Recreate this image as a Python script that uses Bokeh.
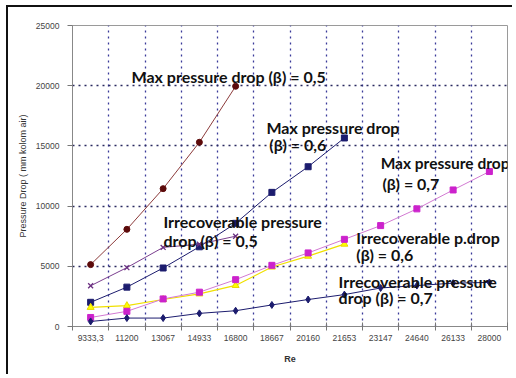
from bokeh.plotting import figure
from bokeh.models import FixedTicker, Label, Range1d
from bokeh.embed import file_html
from bokeh.resources import INLINE

categories = ["9333,3", "11200", "13067", "14933", "16800", "18667",
              "20160", "21653", "23147", "24640", "26133", "28000"]
y_ticks = [0, 5000, 10000, 15000, 20000, 25000]

max_05 = [5140, 8070, 11450, 15300, 19950]
max_06 = [2010, 3270, 4860, 6620, 8570, 11140, 13270, 15660]
max_07 = [750, 1260, 2290, 2850, 3890, 5080, 6110, 7240, 8380, 9770, 11340, 12870]
irr_05 = [3380, 4890, 6570, 6840, 7500]
irr_06 = [1590, 1730, 2240, 2710, 3410, 4940, 5840, 6840]
irr_07 = [420, 700, 700, 1090, 1310, 1790, 2240, 2650, 3200, 3400, 3600, 3660]

n = len(categories)
centers = [i + 0.5 for i in range(n)]

p = figure(width=506, height=369, output_backend="svg", toolbar_location=None,
           x_range=Range1d(0, n), y_range=Range1d(0, 25000),
           min_border_left=64, min_border_right=7, min_border_top=18, min_border_bottom=50)
p.styles = {"margin-left": "6px", "margin-top": "5px",
            "border-left": "2px solid #111111", "border-top": "2px solid #111111"}
p.background_fill_color = "white"
p.border_fill_color = "white"
p.outline_line_color = "#9a9a9a"

# axes
p.xaxis.ticker = FixedTicker(ticks=centers, minor_ticks=list(range(n + 1)))
p.xaxis.major_label_overrides = {c: lab for c, lab in zip(centers, categories)}
p.xaxis.major_tick_line_color = None
p.xaxis.minor_tick_in = 4
p.xaxis.minor_tick_out = 4
p.xaxis.minor_tick_line_color = "#777777"
p.xaxis.axis_line_color = "#888888"
p.xaxis.major_label_standoff = 2
p.xaxis.axis_label = "Re"
p.xaxis.axis_label_text_font_style = "bold"
p.xaxis.axis_label_text_font_size = "9px"
p.xaxis.axis_label_text_font = "Liberation Sans"
p.xaxis.axis_label_text_color = "#333333"
p.xaxis.axis_label_standoff = 10

p.yaxis.ticker = FixedTicker(ticks=y_ticks, minor_ticks=[])
p.yaxis.major_tick_out = 5
p.yaxis.major_tick_in = 0
p.yaxis.major_tick_line_color = "#777777"
p.yaxis.axis_line_color = "#888888"
p.yaxis.major_label_standoff = 8
p.yaxis.axis_label = "Pressure Drop ( mm kolom air)"
p.yaxis.axis_label_text_font_style = "normal"
p.yaxis.axis_label_text_font_size = "9px"
p.yaxis.axis_label_text_font = "Liberation Sans"
p.yaxis.axis_label_text_color = "#333333"
p.yaxis.axis_label_standoff = 5

for ax in (p.xaxis, p.yaxis):
    ax.major_label_text_font = "Liberation Sans"
    ax.major_label_text_font_size = "8.5px"
    ax.major_label_text_color = "#444444"

# grids
p.xgrid.ticker = FixedTicker(ticks=list(range(1, n)))
p.xgrid.grid_line_color = "#3a3a9a"
p.xgrid.grid_line_dash = "dotted"
p.xgrid.grid_line_width = 1.3
p.ygrid.ticker = FixedTicker(ticks=[5000, 10000, 15000, 20000])
p.ygrid.grid_line_color = "#2a2a60"
p.ygrid.grid_line_dash = "dotted"
p.ygrid.grid_line_width = 1.3

# series
def xs(vals):
    return centers[:len(vals)]

p.line(xs(max_05), max_05, line_color="#8c3b3b", line_width=1)
p.scatter(xs(max_05), max_05, marker="circle", size=6, fill_color="#5c0a0a", line_color="#5c0a0a")

p.line(xs(max_06), max_06, line_color="#1c1c6e", line_width=1)
p.scatter(xs(max_06), max_06, marker="square", size=6, fill_color="#1c1c6e", line_color="#1c1c6e")

p.line(xs(irr_05), irr_05, line_color="#7b3f8f", line_width=1)
p.scatter(xs(irr_05), irr_05, marker="x", size=7, line_color="#6a2f80", line_width=1.3)

p.line(xs(irr_06), irr_06, line_color="#f0e000", line_width=1.2)
p.scatter(xs(irr_06), irr_06, marker="triangle", size=7, fill_color="#ffff00", line_color="#e8d800")

p.line(xs(max_07), max_07, line_color="#d27ad2", line_width=1)
p.scatter(xs(max_07), max_07, marker="square", size=6, fill_color="#cc22cc", line_color="#cc22cc")

p.line(xs(irr_07), irr_07, line_color="#1c1c6e", line_width=1)
p.scatter(xs(irr_07), irr_07, marker="diamond", size=7, fill_color="#1c1c6e", line_color="#1c1c6e")

# annotations: (text, x position, y baseline, font size)
labels = [
    ("Max pressure drop (\u03b2) = 0,5", 1.63, 20788, "16px"),
    ("Max pressure drop", 5.35, 16566, "16px"),
    ("(\u03b2) = 0,6", 5.43, 15134, "16px"),
    ("Max pressure drop", 8.50, 13543, "15.5px"),
    ("(\u03b2) = 0,7", 8.55, 11868, "16px"),
    ("Irrecoverable pressure", 2.51, 8685, "16px"),
    ("drop (\u03b2) = 0,5", 2.51, 7178, "16px"),
    ("Irrecoverable  p.drop", 7.83, 7429, "16px"),
    ("(\u03b2) = 0,6", 7.83, 6005, "16px"),
    ("Irrecoverable pressure", 7.34, 3744, "16px"),
    ("drop (\u03b2) = 0,7", 7.34, 2404, "16px"),
]
for txt, lx, ly, fs in labels:
    p.add_layout(Label(x=lx, y=ly, text=txt, text_font="Lato",
                       text_font_style="bold", text_font_size=fs,
                       text_color="#111111", text_baseline="alphabetic"))

open("out.html", "w").write(file_html(p, INLINE))
